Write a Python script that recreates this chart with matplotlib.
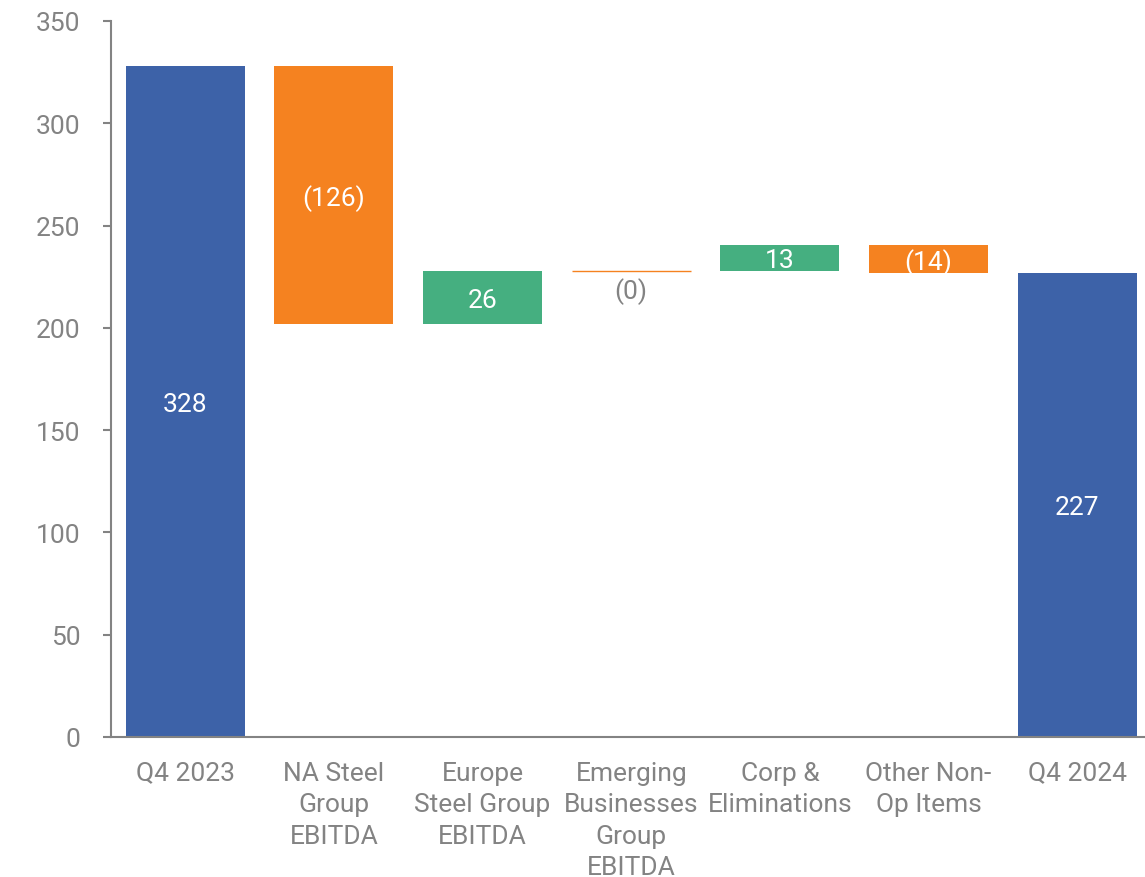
import numpy as np
import matplotlib.pyplot as plt

plt.rcParams['font.family'] = ['Roboto', 'DejaVu Sans']

categories = ["Q4 2023", "NA Steel\nGroup\nEBITDA", "Europe\nSteel Group\nEBITDA",
              "Emerging\nBusinesses\nGroup\nEBITDA", "Corp &\nEliminations",
              "Other Non-\nOp Items", "Q4 2024"]
start_value = 328
changes = [-126, 26, -0.3, 13, -14]
end_value = 227
labels = ["328", "(126)", "26", "(0)", "13", "(14)", "227"]

blue = "#3D62A8"
orange = "#F58220"
green = "#45AF80"
grey = "#838383"

# running totals for the floating bars
bottoms = [0]
heights = [start_value]
level = start_value
for c in changes:
    bottoms.append(level + min(c, 0))
    heights.append(abs(c))
    level += c
bottoms.append(0)
heights.append(end_value)
colors = [blue] + [green if c > 0 else orange for c in changes] + [blue]

fig = plt.figure(figsize=(11.45, 8.78), dpi=100)
ax = fig.add_axes([0.0969, 0.1595, 0.9088, 0.8155])

x = np.arange(len(categories))
for i in x:
    if heights[i] < 1:
        ax.hlines(bottoms[i] + heights[i], i - 0.4, i + 0.4, color=orange, lw=1)
        ax.text(i, bottoms[i] - 8, labels[i], ha='center', va='center_baseline',
                fontsize=19, color=grey)
    else:
        ax.bar(i, heights[i], bottom=bottoms[i], width=0.8, color=colors[i])
        ax.text(i, bottoms[i] + heights[i] / 2, labels[i], ha='center',
                va='center_baseline', fontsize=19, color='white')

ax.set_xlim(-0.5, 6.5)
ax.set_ylim(0, 350)
ax.set_yticks(range(0, 351, 50))
ax.set_xticks(x)
ax.set_xticklabels(categories, linespacing=1.4)

for s in ['top', 'right']:
    ax.spines[s].set_visible(False)
for s in ['left', 'bottom']:
    ax.spines[s].set_color(grey)
    ax.spines[s].set_linewidth(1.5)

ax.tick_params(axis='y', length=6, width=1.5, color=grey, labelcolor=grey,
               labelsize=19, pad=16)
ax.tick_params(axis='x', length=0, labelcolor=grey, labelsize=19, pad=17)

fig.savefig("out.png", dpi=100)
